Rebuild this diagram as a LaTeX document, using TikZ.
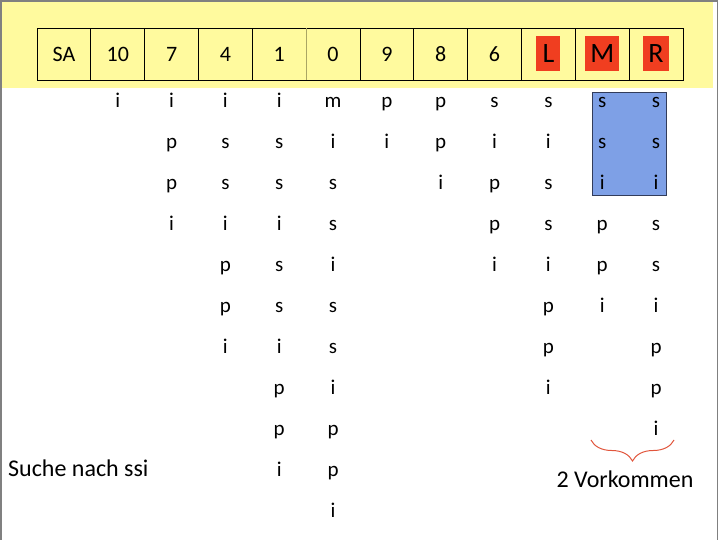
\documentclass[tikz,border=0pt]{standalone}
\usepackage{fontspec}
\setmainfont{Carlito}
\usetikzlibrary{decorations.pathreplacing}
\definecolor{bandyellow}{RGB}{255,250,158}
\definecolor{cellred}{RGB}{240,62,32}
\definecolor{hitblue}{RGB}{126,160,230}
\definecolor{hitborder}{RGB}{50,60,90}
\definecolor{framegray}{RGB}{128,128,128}
\definecolor{bracered}{RGB}{225,85,60}
\definecolor{lightsep}{RGB}{170,165,100}
\tikzset{
  cellbox/.style={draw=black, line width=0.9pt, minimum width=53.83pt, minimum height=52pt, inner sep=0pt, font=\fontsize{22}{26}\selectfont},
  markbox/.style={fill=cellred, inner sep=0pt, minimum height=35pt, font=\fontsize{28}{32}\selectfont},
  letter/.style={anchor=base, inner sep=0pt, font=\fontsize{21}{25}\selectfont},
  hitbox/.style={draw=hitborder, fill=hitblue, line width=0.8pt, inner sep=0pt},
  bigtext/.style={inner sep=0pt, font=\fontsize{24}{28}\selectfont},
}
\begin{document}
\begin{tikzpicture}[x=1pt, y=-1pt]
\useasboundingbox (0,0) rectangle (720,540);
% yellow band
\fill[bandyellow] (2,2) rectangle (713,88);
% frame
\draw[framegray, line width=1.5pt] (1,540) -- (1,1) -- (717.5,1) -- (717.5,540);
% table cells
\foreach \t [count=\i from 0] in {SA,10,7,4,1,0,9,8,6,{},{},{}} {
  \node[cellbox] (c\i) at ({37+53.83*\i+26.915},54) {\t};
}
\draw[line width=1.2pt, lightsep] (c4.north east) -- (c4.south east);
\node[markbox, minimum width=24pt] (mL) at (c9) {L};
\node[markbox, minimum width=34pt] (mM) at (c10) {M};
\node[markbox, minimum width=26pt] (mR) at (c11) {R};
% hit interval box
\node[hitbox, minimum width=74pt, minimum height=103pt] (hit) at (629,143.5) {};
% suffix letters
\foreach \col/\letters in {1/{i},2/{i,p,p,i},3/{i,s,s,i,p,p,i},4/{i,s,s,i,s,s,i,p,p,i},5/{m,i,s,s,i,s,s,i,p,p,i},6/{p,i},7/{p,p,i},8/{s,i,p,p,i},9/{s,i,s,s,i,p,p,i},10/{s,s,i,p,p,i},11/{s,s,i,s,s,i,p,p,i}} {
  \foreach \l [count=\r from 0] in \letters {
    \node[letter] (l-\col-\r) at ({37+53.83*\col+26.915},{108+40.9*\r}) {\l};
  }
}
% texts
\node[bigtext, anchor=west] (query) at (8,468) {Suche nach ssi};
\coordinate (bl) at (591,440);
\coordinate (br) at (674,440);
\draw[bracered, line width=1pt, decorate, decoration={brace, mirror, amplitude=21pt}] (bl) -- (br);
\node[bigtext] (count) at (625,479) {2 Vorkommen};
\end{tikzpicture}
\end{document}
